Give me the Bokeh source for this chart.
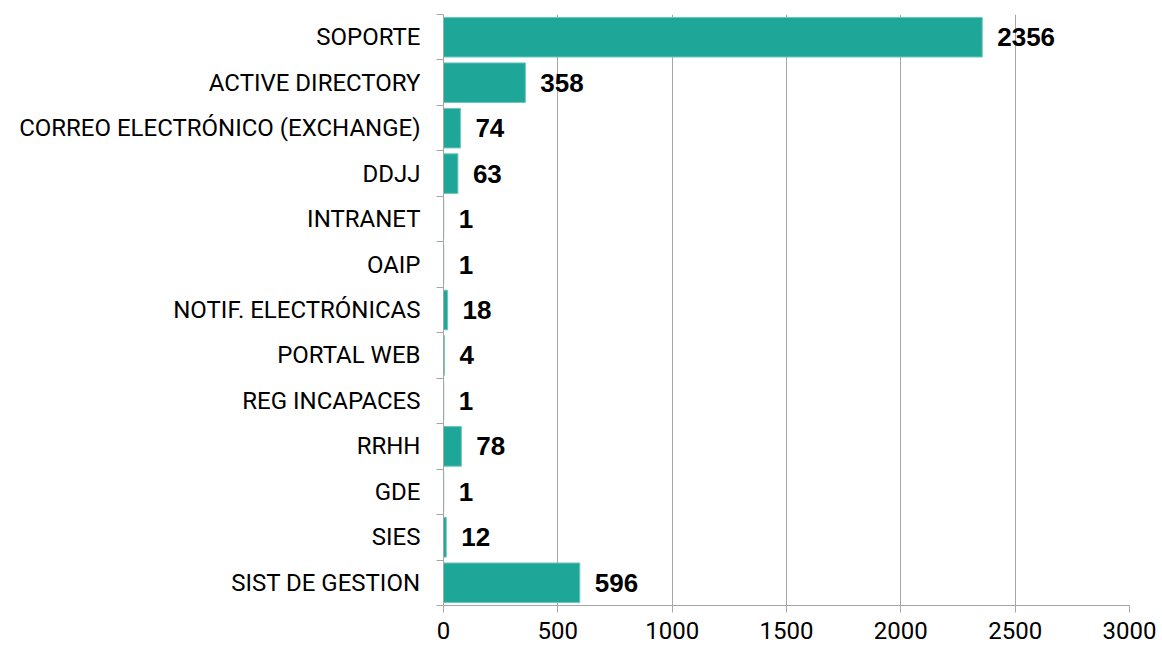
from bokeh.plotting import figure
from bokeh.models import ColumnDataSource, FixedTicker, Range1d, LabelSet
from bokeh.core.properties import value
from bokeh.embed import file_html
from bokeh.resources import INLINE

categories = ["SOPORTE", "ACTIVE DIRECTORY", "CORREO ELECTRÓNICO (EXCHANGE)", "DDJJ",
              "INTRANET", "OAIP", "NOTIF. ELECTRÓNICAS", "PORTAL WEB", "REG INCAPACES",
              "RRHH", "GDE", "SIES", "SIST DE GESTION"]
values = [2356, 358, 74, 63, 1, 1, 18, 4, 1, 78, 1, 12, 596]
x_ticks = [0, 500, 1000, 1500, 2000, 2500, 3000]

pos = list(range(len(categories)))
src = ColumnDataSource(dict(y=pos, v=values, lab=[str(v) for v in values]))

p = figure(width=1158, height=648, output_backend="svg", toolbar_location=None,
           x_range=Range1d(0, 3000), y_range=Range1d(len(categories) - 0.5, -0.5),
           min_border_left=443, min_border_right=29, min_border_top=14, min_border_bottom=43)
p.outline_line_color = None

p.hbar(y="y", right="v", left=0, height=0.87, source=src,
       fill_color="#1ea698", line_color="#6cc7bc", line_width=1)

labels = LabelSet(x="v", y="y", text="lab", source=src, x_offset=15,
                  text_baseline="middle", text_font=value("Liberation Sans"),
                  text_font_style="bold", text_font_size="26px", text_color="#000000")
p.add_layout(labels)

# x axis
p.xaxis.ticker = FixedTicker(ticks=x_ticks)
p.xaxis.axis_line_color = "#a6a6a6"
p.xaxis.major_tick_line_color = "#a6a6a6"
p.xaxis.major_tick_out = 7
p.xaxis.major_tick_in = 0
p.xaxis.minor_tick_line_color = None
p.xaxis.major_label_text_font = "Roboto"
p.xaxis.major_label_text_font_size = "24px"
p.xaxis.major_label_text_color = "#000000"
p.xaxis.major_label_standoff = 9

# y axis: labels at centers, ticks at boundaries
bounds = [i - 0.5 for i in range(len(categories) + 1)]
p.yaxis.ticker = FixedTicker(ticks=pos, minor_ticks=bounds)
p.yaxis.major_label_overrides = {i: c for i, c in enumerate(categories)}
p.yaxis.major_tick_line_color = None
p.yaxis.minor_tick_line_color = "#a6a6a6"
p.yaxis.minor_tick_out = 7
p.yaxis.minor_tick_in = 0
p.yaxis.axis_line_color = "#a6a6a6"
p.yaxis.major_label_text_font = "Roboto"
p.yaxis.major_label_text_font_size = "24px"
p.yaxis.major_label_text_color = "#000000"
p.yaxis.major_label_standoff = 16

p.xgrid.grid_line_color = "#a6a6a6"
p.xgrid.grid_line_width = 1
p.ygrid.grid_line_color = None

open("out.html", "w").write(file_html(p, INLINE))
